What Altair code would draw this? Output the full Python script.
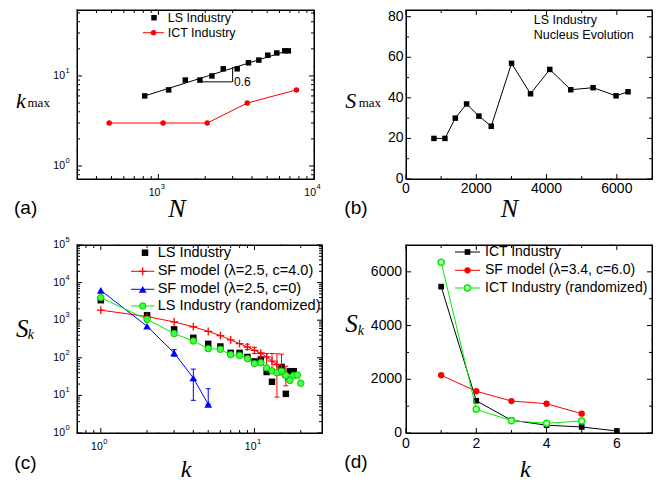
import altair as alt
import pandas as pd

# ---------------- data ----------------
# (a) k_max vs N, log-log
a_ls_N = [817, 1164, 1490, 1849, 2208, 2611, 3208, 3792, 4421, 5046, 5766, 6486, 6840]
a_ls_kmax = [6, 7, 9, 9, 10, 12, 12, 14, 15, 17, 18, 19, 19]
a_ict_N = [483, 1072, 2061, 3724, 7709]
a_ict_kmax = [3, 3, 3, 5, 7]
a_fit_N = [817, 6840]
a_fit_kmax = [6.0, 19.2]
a_slope_N = [1850, 3000, 3000]
a_slope_kmax = [8.6, 8.6, 12.5]
a_legend = ["LS Industry", "ICT Industry"]

# (b) S_max vs N
b_N = [795, 1108, 1403, 1724, 2074, 2426, 3003, 3543, 4091, 4688, 5324, 5977, 6318]
b_Smax = [20, 20, 30, 37, 31, 26, 57, 42, 54, 44, 45, 41, 43]
b_text = ["LS Industry", "Nucleus Evolution"]

# (c) S_k vs k, log-log
c_ls_k = [1, 2, 3, 4, 5, 6, 7, 8, 9, 10, 11, 12, 13, 15, 16, 17, 18]
c_ls_S = [3400, 1350, 570, 340, 235, 200, 135, 135, 105, 80, 90, 42, 23, 57, 11, 44, 44]
c_sf1_k = [1, 2, 3, 4, 5, 6, 7, 8, 9, 10, 11, 12, 13, 14, 15, 16]
c_sf1_S = [1850, 1250, 900, 670, 505, 390, 300, 237, 194, 158, 134, 105, 82, 66, 45, 31]
c_sf1_err_k = [9, 10, 11, 12, 13, 14, 15, 16]
c_sf1_err_lo = [165, 130, 75, 55, 45, 9, 35, 18]
c_sf1_err_hi = [230, 190, 130, 130, 130, 128, 125, 60]
c_sf0_k = [1, 2, 3, 4, 5]
c_sf0_S = [6200, 690, 135, 29, 5.8]
c_sf0_err_k = [3, 4, 5]
c_sf0_err_lo = [110, 7.4, 5.8]
c_sf0_err_hi = [165, 50, 15]
c_rand_k = list(range(1, 21))
c_rand_S = [4000, 1050, 440, 280, 175, 168, 121, 116, 95, 70, 74, 54, 45, 40, 44, 34, 25, 34, 35, 21]
c_legend = ["LS Industry", "SF model (\u03bb=2.5, c=4.0)", "SF model (\u03bb=2.5, c=0)",
            "LS Industry (randomized)"]

# (d) S_k vs k, linear
d_ict_k = [1, 2, 3, 4, 5, 6]
d_ict_S = [5450, 1200, 475, 290, 225, 75]
d_sf_k = [1, 2, 3, 4, 5]
d_sf_S = [2150, 1555, 1190, 1090, 720]
d_rand_k = [1, 2, 3, 4, 5]
d_rand_S = [6360, 880, 460, 360, 450]
d_legend = ["ICT Industry", "SF model (\u03bb=3.4, c=6.0)", "ICT Industry (randomized)"]

# axis domains, tick values and tick labels
a_x_dom = [300, 10000]
a_y_dom = [0.717, 54]
a_x_major = [1000, 10000]
a_x_exp = ["3", "4"]
a_x_minor = [400, 500, 600, 700, 800, 900, 2000, 3000, 4000, 5000, 6000, 7000, 8000, 9000]
a_y_major = [1, 10]
a_y_exp = ["0", "1"]
a_y_minor = [0.8, 0.9, 2, 3, 4, 5, 6, 7, 8, 9, 20, 30, 40, 50]
b_x_dom = [0, 7000]
b_y_dom = [0, 83.3]
b_x_major = [0, 2000, 4000, 6000]
b_x_labels = ["0", "2000", "4000", "6000"]
b_x_minor = [1000, 3000, 5000]
b_y_major = [0, 20, 40, 60, 80]
b_y_labels = ["0", "20", "40", "60", "80"]
b_y_minor = [10, 30, 50, 70]
c_x_dom = [0.7, 27.5]
c_y_dom = [1, 100000]
c_x_major = [1, 10]
c_x_exp = ["0", "1"]
c_x_minor = [0.8, 0.9, 2, 3, 4, 5, 6, 7, 8, 9, 20]
c_y_major = [1, 10, 100, 1000, 10000, 100000]
c_y_exp = ["0", "1", "2", "3", "4", "5"]
c_y_minor = [m * d for d in [1, 10, 100, 1000, 10000] for m in range(2, 10)]
d_x_dom = [0, 7]
d_y_dom = [0, 7000]
d_x_major = [0, 2, 4, 6]
d_x_labels = ["0", "2", "4", "6"]
d_x_minor = [1, 3, 5]
d_y_major = [0, 2000, 4000, 6000]
d_y_labels = ["0", "2000", "4000", "6000"]
d_y_minor = [1000, 3000, 5000]

FONT = "Liberation Sans"
SERIF = "Liberation Serif"
RED = "#ff0000"
BLUE = "#0000ff"
GREEN = "#00ee00"
PLUS = "M-1,0L1,0M0,-1L0,1"
CAP = "M-1,0L1,0"
FRAME_PIECES = 6


def df(**cols):
    return pd.DataFrame(cols)


def seg(x1, x2, y1, y2):
    one = df(a=[0])
    if y1 == y2:
        return alt.Chart(one).mark_rule(color="black", strokeWidth=1).encode(
            x=alt.value(x1), x2=alt.value(x2), y=alt.value(y1))
    return alt.Chart(one).mark_rule(color="black", strokeWidth=1).encode(
        y=alt.value(y1), y2=alt.value(y2), x=alt.value(x1))


def frame_ticks(W, H, xs, ys, xdom, ydom, xmaj, xmin, ymaj, ymin, lmaj=5, lmin=3):
    out = []
    # frame (box) drawn as short pieces along each side
    n = FRAME_PIECES
    for j in range(n):
        xa, xb = W * j / n - 0.5, W * (j + 1) / n + 0.5
        ya, yb = H * j / n - 0.5, H * (j + 1) / n + 0.5
        out.append(seg(xa, xb, 0, 0))
        out.append(seg(xa, xb, H, H))
        out.append(seg(0, 0, ya, yb))
        out.append(seg(W, W, ya, yb))
    for vals, L in ((ymaj, lmaj), (ymin, lmin)):
        d = df(v=vals)
        out.append(alt.Chart(d).mark_rule(color="black", strokeWidth=1).encode(
            y=alt.Y("v:Q", scale=ys, axis=None), x=alt.value(0), x2=alt.value(L)))
        out.append(alt.Chart(d).mark_rule(color="black", strokeWidth=1).encode(
            y=alt.Y("v:Q", scale=ys, axis=None), x=alt.value(W), x2=alt.value(W - L)))
    for vals, L in ((xmaj, lmaj), (xmin, lmin)):
        d = df(v=vals)
        out.append(alt.Chart(d).mark_rule(color="black", strokeWidth=1).encode(
            x=alt.X("v:Q", scale=xs, axis=None), y=alt.value(H), y2=alt.value(H - L)))
        out.append(alt.Chart(d).mark_rule(color="black", strokeWidth=1).encode(
            x=alt.X("v:Q", scale=xs, axis=None), y=alt.value(0), y2=alt.value(L)))
    return out


def lin_labels_x(vals, labels, xs, H, dy=10.5, size=14):
    return alt.Chart(df(v=vals, t=labels)).mark_text(
        font=FONT, fontSize=size, align="center", baseline="middle", color="black").encode(
        x=alt.X("v:Q", scale=xs, axis=None), y=alt.value(H + dy), text="t:N")


def lin_labels_y(vals, labels, ys, right=-3, size=14):
    return alt.Chart(df(v=vals, t=labels)).mark_text(
        font=FONT, fontSize=size, align="right", baseline="middle", color="black").encode(
        y=alt.Y("v:Q", scale=ys, axis=None), x=alt.value(right), text="t:N")


def log_labels_x(vals, exps, xs, H, dy=13.5):
    base = df(v=vals, t=["10"] * len(vals), e=exps)
    return [
        alt.Chart(base).mark_text(font=FONT, fontSize=10.5, align="right", baseline="middle",
                                  dx=2, color="black").encode(
            x=alt.X("v:Q", scale=xs, axis=None), y=alt.value(H + dy), text="t:N"),
        alt.Chart(base).mark_text(font=FONT, fontSize=7.5, align="left", baseline="middle",
                                  dx=2.5, color="black").encode(
            x=alt.X("v:Q", scale=xs, axis=None), y=alt.value(H + dy - 5.5), text="e:N"),
    ]


def log_labels_y(vals, exps, ys, right=-12):
    base = df(v=vals, t=["10"] * len(vals), e=exps)
    return [
        alt.Chart(base).mark_text(font=FONT, fontSize=10.5, align="right", baseline="middle",
                                  color="black").encode(
            y=alt.Y("v:Q", scale=ys, axis=None), x=alt.value(right), text="t:N"),
        alt.Chart(base).mark_text(font=FONT, fontSize=7.5, align="left", baseline="middle",
                                  dy=-5, color="black").encode(
            y=alt.Y("v:Q", scale=ys, axis=None), x=alt.value(right + 0.5), text="e:N"),
    ]


def txt(s, x, y, size, font=FONT, style="normal", align="left", baseline="middle"):
    return alt.Chart(df(t=[s])).mark_text(
        font=font, fontSize=size, fontStyle=style, align=align, baseline=baseline, color="black"
    ).encode(x=alt.value(x), y=alt.value(y), text="t:N")


def lpoint(x, y, **kw):
    return alt.Chart(df(a=[0])).mark_point(opacity=1, **kw).encode(x=alt.value(x), y=alt.value(y))


def lline(x1, x2, y, color, width=1):
    return alt.Chart(df(a=[0])).mark_rule(color=color, strokeWidth=width).encode(
        x=alt.value(x1), x2=alt.value(x2), y=alt.value(y))


# top row plot areas start at y=5 of the reference frame; offsets below are relative
TOP = 5

# ---------------- panel (a) ----------------
aW, aH = 237, 174 - TOP
a_xs = alt.Scale(type="log", domain=a_x_dom, nice=False)
a_ys = alt.Scale(type="log", domain=a_y_dom, nice=False)


def axy(xf="N:Q", yf="k:Q"):
    return dict(x=alt.X(xf, scale=a_xs, axis=None), y=alt.Y(yf, scale=a_ys, axis=None))


a_layers = [
    alt.Chart(df(N=a_fit_N, k=a_fit_kmax)).mark_line(color="black", strokeWidth=1).encode(**axy()),
]
a_layers += frame_ticks(aW, aH, a_xs, a_ys, a_x_dom, a_y_dom, a_x_major, a_x_minor, a_y_major, a_y_minor)
a_layers += log_labels_x(a_x_major, a_x_exp, a_xs, aH)
a_layers += log_labels_y(a_y_major, a_y_exp, a_ys)
a_layers += [
    alt.Chart(df(N=a_slope_N, k=a_slope_kmax, i=[0, 1, 2])).mark_line(color="black", strokeWidth=1).encode(
        **axy(), order="i:Q"),
    alt.Chart(df(N=a_ls_N, k=a_ls_kmax)).mark_point(shape="square", filled=True, color="black",
                                                 size=30, opacity=1).encode(**axy()),
    alt.Chart(df(N=a_ict_N, k=a_ict_kmax)).mark_line(color=RED, strokeWidth=1).encode(**axy()),
    alt.Chart(df(N=a_ict_N, k=a_ict_kmax)).mark_point(shape="circle", filled=True, color=RED,
                                                   size=30, opacity=1).encode(**axy()),
    txt("0.6", 157, 77 - TOP, 12),
    lpoint(77, 12.7 - TOP, shape="square", filled=True, color="black", size=30),
    txt(a_legend[0], 90.7, 12.7 - TOP, 12.5),
    lline(66, 87, 27.7 - TOP, RED),
    lpoint(76.5, 27.7 - TOP, shape="circle", filled=True, color=RED, size=30),
    txt(a_legend[1], 90.7, 27.7 - TOP, 12.5),
    txt("k", -61, 102.7 - TOP, 22, font=SERIF, style="italic", baseline="alphabetic"),
    txt("max", -49.5, 101.7 - TOP, 13, font=SERIF, baseline="alphabetic"),
    txt("N", 100, 211.7 - TOP, 26, font=SERIF, style="italic", align="center", baseline="alphabetic"),
    txt("(a)", -63, 203.3 - TOP, 19),
]
panel_a = alt.layer(*a_layers).properties(width=aW, height=aH)

# ---------------- panel (b) ----------------
bW, bH = 246, 174 - TOP
b_xs = alt.Scale(domain=b_x_dom, nice=False, zero=False)
b_ys = alt.Scale(domain=b_y_dom, nice=False, zero=False)


def bxy():
    return dict(x=alt.X("N:Q", scale=b_xs, axis=None), y=alt.Y("S:Q", scale=b_ys, axis=None))


b_layers = [
    alt.Chart(df(N=b_N, S=b_Smax)).mark_line(color="black", strokeWidth=1).encode(**bxy()),
]
b_layers += frame_ticks(bW, bH, b_xs, b_ys, b_x_dom, b_y_dom, b_x_major, b_x_minor, b_y_major, b_y_minor)
b_layers += [
    lin_labels_x(b_x_major, b_x_labels, b_xs, bH, dy=10),
    lin_labels_y(b_y_major, b_y_labels, b_ys, right=-2.5),
    alt.Chart(df(N=b_N, S=b_Smax)).mark_point(shape="square", filled=True, color="black",
                                          size=30, opacity=1).encode(**bxy()),
    txt(b_text[0], 127.7, 15 - TOP, 12.5),
    txt(b_text[1], 127.7, 30 - TOP, 12.5),
    txt("S", -60.7, 103.3 - TOP, 22, font=SERIF, style="italic", baseline="alphabetic"),
    txt("max", -47.3, 101.7 - TOP, 13, font=SERIF, baseline="alphabetic"),
    txt("N", 103.5, 211.7 - TOP, 26, font=SERIF, style="italic", align="center", baseline="alphabetic"),
    txt("(b)", -61.7, 203.3 - TOP, 19),
]
panel_b = alt.layer(*b_layers).properties(width=bW, height=bH)

# ---------------- panel (c) ----------------
cW, cH = 245, 188
c_xs = alt.Scale(type="log", domain=c_x_dom, nice=False)
c_ys = alt.Scale(type="log", domain=c_y_dom, nice=False)


def cxy(xf, yf):
    return dict(x=alt.X(xf, scale=c_xs, axis=None), y=alt.Y(yf, scale=c_ys, axis=None))


sf1_err = df(k=c_sf1_err_k, lo=c_sf1_err_lo, hi=c_sf1_err_hi)
sf0_err = df(k=c_sf0_err_k, lo=c_sf0_err_lo, hi=c_sf0_err_hi)
c_layers = [
    alt.Chart(df(k=c_ls_k, S=c_ls_S)).mark_point(shape="square", filled=True, color="black",
                                             size=42, opacity=1).encode(**cxy("k:Q", "S:Q")),
]
c_layers += frame_ticks(cW, cH, c_xs, c_ys, c_x_dom, c_y_dom, c_x_major, c_x_minor, c_y_major, c_y_minor)
c_layers += log_labels_x(c_x_major, c_x_exp, c_xs, cH, dy=14)
c_layers += log_labels_y(c_y_major, c_y_exp, c_ys)
c_layers += [
    # SF model c=4.0 (red)
    alt.Chart(sf1_err).mark_rule(color=RED, strokeWidth=1).encode(
        **cxy("k:Q", "lo:Q"), y2="hi:Q"),
    alt.Chart(sf1_err).mark_point(shape=CAP, filled=False, color=RED, size=25, opacity=1,
                                  strokeWidth=1).encode(**cxy("k:Q", "lo:Q")),
    alt.Chart(sf1_err).mark_point(shape=CAP, filled=False, color=RED, size=25, opacity=1,
                                  strokeWidth=1).encode(**cxy("k:Q", "hi:Q")),
    alt.Chart(df(k=c_sf1_k, S=c_sf1_S)).mark_line(color=RED, strokeWidth=1).encode(**cxy("k:Q", "S:Q")),
    alt.Chart(df(k=c_sf1_k, S=c_sf1_S)).mark_point(shape=PLUS, filled=False, color=RED, size=60,
                                               opacity=1, strokeWidth=1.3).encode(**cxy("k:Q", "S:Q")),
    # SF model c=0 (blue)
    alt.Chart(sf0_err).mark_rule(color=BLUE, strokeWidth=1).encode(
        **cxy("k:Q", "lo:Q"), y2="hi:Q"),
    alt.Chart(sf0_err).mark_point(shape=CAP, filled=False, color=BLUE, size=25, opacity=1,
                                  strokeWidth=1).encode(**cxy("k:Q", "lo:Q")),
    alt.Chart(sf0_err).mark_point(shape=CAP, filled=False, color=BLUE, size=25, opacity=1,
                                  strokeWidth=1).encode(**cxy("k:Q", "hi:Q")),
    alt.Chart(df(k=c_sf0_k, S=c_sf0_S)).mark_line(color=BLUE, strokeWidth=1).encode(**cxy("k:Q", "S:Q")),
    alt.Chart(df(k=c_sf0_k, S=c_sf0_S)).mark_point(shape="triangle-up", filled=True, color=BLUE,
                                               size=60, opacity=1).encode(**cxy("k:Q", "S:Q")),
    # LS randomized (green)
    alt.Chart(df(k=c_rand_k, S=c_rand_S)).mark_line(color=GREEN, strokeWidth=1).encode(**cxy("k:Q", "S:Q")),
    alt.Chart(df(k=c_rand_k, S=c_rand_S)).mark_point(shape="circle", filled=True, fill="#44ff44",
                                                 stroke="#00cc00", strokeWidth=1, size=42,
                                                 opacity=1).encode(**cxy("k:Q", "S:Q")),
    # legend
    lpoint(68, 7.7, shape="square", filled=True, color="black", size=42),
    txt(c_legend[0], 80.7, 7.7, 14.5),
    lline(54, 77.3, 26.3, RED),
    lpoint(65.7, 26.3, shape=PLUS, filled=False, color=RED, size=60, strokeWidth=1.3),
    txt(c_legend[1], 80.7, 26.3, 14.5),
    lline(54, 77.3, 44.3, BLUE),
    lpoint(65.7, 44.3, shape="triangle-up", filled=True, color=BLUE, size=60),
    txt(c_legend[2], 80.7, 44.3, 14.5),
    lline(54, 77.3, 61, GREEN),
    lpoint(65.7, 61, shape="circle", filled=True, fill="#44ff44", stroke="#00cc00", strokeWidth=1, size=42),
    txt(c_legend[3], 80.7, 61, 14.5),
    txt("S", -61, 92, 25, font=SERIF, style="italic", baseline="alphabetic"),
    txt("k", -49.3, 94.3, 14, font=SERIF, style="italic", baseline="alphabetic"),
    txt("k", 109, 232, 24, font=SERIF, style="italic", align="center", baseline="alphabetic"),
    txt("(c)", -62.7, 217.8, 19),
]
panel_c = alt.layer(*c_layers).properties(width=cW, height=cH)

# ---------------- panel (d) ----------------
dW, dH = 246, 188
d_xs = alt.Scale(domain=d_x_dom, nice=False, zero=False)
d_ys = alt.Scale(domain=d_y_dom, nice=False, zero=False)


def dxy():
    return dict(x=alt.X("k:Q", scale=d_xs, axis=None), y=alt.Y("S:Q", scale=d_ys, axis=None))


d_layers = [
    alt.Chart(df(k=d_ict_k, S=d_ict_S)).mark_line(color="black", strokeWidth=1).encode(**dxy()),
]
d_layers += frame_ticks(dW, dH, d_xs, d_ys, d_x_dom, d_y_dom, d_x_major, d_x_minor, d_y_major, d_y_minor)
d_layers += [
    lin_labels_x(d_x_major, d_x_labels, d_xs, dH, dy=10.7),
    lin_labels_y(d_y_major, d_y_labels, d_ys, right=-4),
    alt.Chart(df(k=d_ict_k, S=d_ict_S)).mark_point(shape="square", filled=True, color="black",
                                               size=32, opacity=1).encode(**dxy()),
    alt.Chart(df(k=d_sf_k, S=d_sf_S)).mark_line(color=RED, strokeWidth=1).encode(**dxy()),
    alt.Chart(df(k=d_sf_k, S=d_sf_S)).mark_point(shape="circle", filled=True, color=RED,
                                             size=40, opacity=1).encode(**dxy()),
    alt.Chart(df(k=d_rand_k, S=d_rand_S)).mark_line(color=GREEN, strokeWidth=1).encode(**dxy()),
    alt.Chart(df(k=d_rand_k, S=d_rand_S)).mark_point(shape="circle", filled=True, fill="#ccffcc",
                                                 stroke=GREEN, strokeWidth=1.5, size=36,
                                                 opacity=1).encode(**dxy()),
    lline(49, 74, 7, "black"),
    lpoint(61.5, 7, shape="square", filled=True, color="black", size=32),
    txt(d_legend[0], 79, 7, 14),
    lline(49, 74, 25.3, RED),
    lpoint(61.5, 25.3, shape="circle", filled=True, color=RED, size=40),
    txt(d_legend[1], 79, 25.3, 14),
    lline(49, 74, 43, GREEN),
    lpoint(61.5, 43, shape="circle", filled=True, fill="#ccffcc", stroke=GREEN, strokeWidth=1.5, size=36),
    txt(d_legend[2], 79, 43, 14),
    txt("S", -60.7, 87, 25, font=SERIF, style="italic", baseline="alphabetic"),
    txt("k", -48.3, 90.3, 14, font=SERIF, style="italic", baseline="alphabetic"),
    txt("k", 119.3, 232, 24, font=SERIF, style="italic", align="center", baseline="alphabetic"),
    txt("(d)", -61.7, 217, 19),
]
panel_d = alt.layer(*d_layers).properties(width=dW, height=dH)

chart = alt.concat(
    panel_a, panel_b, panel_c, panel_d,
    columns=2, spacing={"row": 66, "column": 84}, bounds="flush",
).properties(
    padding={"left": 5, "top": 0, "right": 0, "bottom": 0}
).configure_view(
    stroke="black", strokeWidth=1
)

chart.save("out.html", embed_options={"renderer": "svg", "actions": False})
